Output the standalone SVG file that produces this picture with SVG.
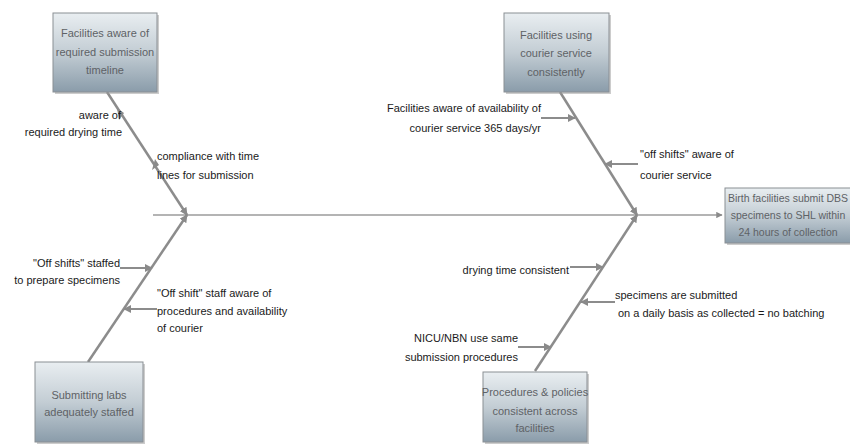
<svg xmlns="http://www.w3.org/2000/svg" width="850" height="444" viewBox="0 0 850 444">
<defs>
<linearGradient id="boxg" x1="0" y1="0" x2="0" y2="1">
<stop offset="0" stop-color="#e9eef1"/>
<stop offset="0.5" stop-color="#c3cdd4"/>
<stop offset="1" stop-color="#8a9caa"/>
</linearGradient>
<marker id="ah" viewBox="0 0 10 10" refX="9" refY="5" markerWidth="3.2" markerHeight="3.2" orient="auto" markerUnits="strokeWidth">
<path d="M0,0 L10,5 L0,10 z" fill="#8a8a8a"/>
</marker>
<marker id="ahs" viewBox="0 0 10 10" refX="9" refY="5" markerWidth="4" markerHeight="4" orient="auto" markerUnits="strokeWidth">
<path d="M0,0 L10,5 L0,10 z" fill="#8a8a8a"/>
</marker>
</defs>
<style>
.box{fill:url(#boxg);stroke:#8a8f94;stroke-width:1}
.shadow{fill:#9a9a9a;opacity:0.5}
.bt{font-family:"Liberation Sans",Arial,sans-serif;font-size:11px;fill:#5e6266;text-anchor:middle}
.lb{font-family:"Liberation Sans",Arial,sans-serif;font-size:11px;fill:#1a1a1a}
.bone{stroke:#8c8c8c;stroke-width:2.5;fill:none}
.spine{stroke:#b4b4b4;stroke-width:2;fill:none}
.sub{stroke:#8c8c8c;stroke-width:2;fill:none}
.tip{fill:#8a8a8a}
</style>
<rect width="850" height="444" fill="#ffffff"/>
<g id="connectors">
<line class="spine" x1="153" y1="215" x2="722" y2="215" marker-end="url(#ah)"/>
<line class="bone" x1="107" y1="92" x2="187" y2="215" marker-end="url(#ah)"/>
<line class="bone" x1="88" y1="362" x2="187" y2="215" marker-end="url(#ah)"/>
<line class="bone" x1="560" y1="92" x2="637" y2="215" marker-end="url(#ah)"/>
<line class="bone" x1="535" y1="371" x2="637" y2="215" marker-end="url(#ah)"/>
<polygon class="tip" points="117,108 124,113 119,120"/>
<polygon class="tip" points="152,170 159,165 155,159"/>
<line class="sub" x1="541" y1="118" x2="575" y2="118" marker-end="url(#ahs)"/>
<line class="sub" x1="638" y1="164" x2="605" y2="164" marker-end="url(#ahs)"/>
<line class="sub" x1="120" y1="268" x2="152" y2="268" marker-end="url(#ahs)"/>
<line class="sub" x1="157" y1="309" x2="124" y2="309" marker-end="url(#ahs)"/>
<line class="sub" x1="570" y1="267" x2="603" y2="267" marker-end="url(#ahs)"/>
<line class="sub" x1="615" y1="302" x2="581" y2="302" marker-end="url(#ahs)"/>
<line class="sub" x1="518" y1="347" x2="551" y2="347" marker-end="url(#ahs)"/>
</g>
<g id="n-timeline">
<rect class="shadow" x="55" y="15" width="104" height="79"/>
<rect class="box" x="53" y="13" width="104" height="79"/>
<text class="bt" x="105" y="37">Facilities aware of</text>
<text class="bt" x="105" y="56">required submission</text>
<text class="bt" x="105" y="74">timeline</text>
</g>
<g id="n-courier">
<rect class="shadow" x="506" y="15" width="105" height="79"/>
<rect class="box" x="504" y="13" width="105" height="79"/>
<text class="bt" x="556" y="39">Facilities using</text>
<text class="bt" x="556" y="57">courier service</text>
<text class="bt" x="556" y="76">consistently</text>
</g>
<g id="n-effect">
<rect class="shadow" x="727" y="190" width="130" height="55"/>
<rect class="box" x="725" y="188" width="130" height="55"/>
<text class="bt" x="788" y="202" style="font-size:10.5px">Birth facilities submit DBS</text>
<text class="bt" x="788" y="219" style="font-size:10.5px">specimens to SHL within</text>
<text class="bt" x="788" y="236" style="font-size:10.5px">24 hours of collection</text>
</g>
<g id="n-staffed">
<rect class="shadow" x="37" y="364" width="108" height="80"/>
<rect class="box" x="35" y="362" width="108" height="80"/>
<text class="bt" x="89" y="399">Submitting labs</text>
<text class="bt" x="89" y="416">adequately staffed</text>
</g>
<g id="n-procedures">
<rect class="shadow" x="485" y="374" width="104" height="70"/>
<rect class="box" x="483" y="372" width="104" height="70"/>
<text class="bt" x="535" y="396">Procedures &amp; policies</text>
<text class="bt" x="535" y="415">consistent across</text>
<text class="bt" x="535" y="432">facilities</text>
</g>
<g id="labels">
<text class="lb" x="121" y="119" text-anchor="end">aware of</text>
<text class="lb" x="122" y="136" text-anchor="end">required drying time</text>
<text class="lb" x="157" y="160">compliance with time</text>
<text class="lb" x="157" y="179">lines for submission</text>
<text class="lb" x="541" y="112" text-anchor="end">Facilities aware of availability of</text>
<text class="lb" x="541" y="132" text-anchor="end">courier service 365 days/yr</text>
<text class="lb" x="640" y="158">"off shifts" aware of</text>
<text class="lb" x="640" y="179">courier service</text>
<text class="lb" x="120" y="267" text-anchor="end">"Off shifts"  staffed</text>
<text class="lb" x="120" y="284" text-anchor="end">to prepare specimens</text>
<text class="lb" x="157" y="297">"Off shift" staff aware of</text>
<text class="lb" x="157" y="315">procedures and availability</text>
<text class="lb" x="157" y="332">of courier</text>
<text class="lb" x="569" y="274" text-anchor="end">drying time consistent</text>
<text class="lb" x="615" y="299">specimens are submitted</text>
<text class="lb" x="618" y="317">on a daily basis as collected = no batching</text>
<text class="lb" x="518" y="342" text-anchor="end">NICU/NBN use same</text>
<text class="lb" x="518" y="361" text-anchor="end">submission procedures</text>
</g>
</svg>
